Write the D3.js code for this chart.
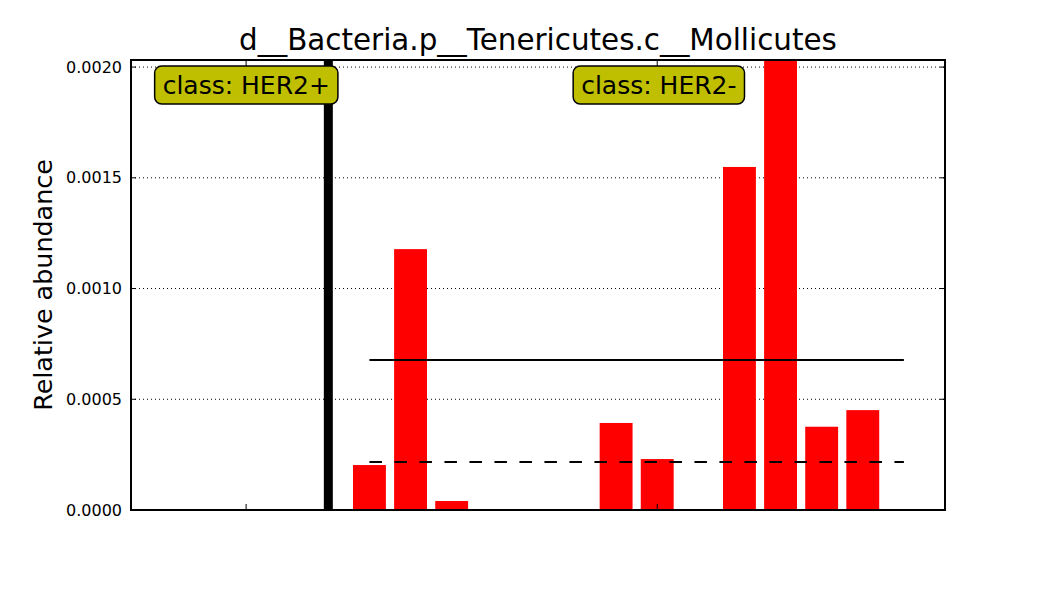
<!DOCTYPE html>
<html><head><meta charset="utf-8">
<script src="https://cdn.jsdelivr.net/npm/d3@7"></script>
<style>body{margin:0;background:#fff}svg{display:block}text{font-family:"DejaVu Sans",sans-serif}</style>
</head><body><svg id="c" width="1050" height="600"></svg>
<script>
const title = "d__Bacteria.p__Tenericutes.c__Mollicutes";
const classes = ["HER2+", "HER2-"];
const her2posValues = [0, 0, 0, 0];
const her2negValues = [0.000203, 0.001178, 0.0000406, 0, 0, 0, 0.000393, 0.00023, 0, 0.001549, 0.00506, 0.000376, 0.000451, 0];
const yTicks = [0.0000, 0.0005, 0.0010, 0.0015, 0.0020];
const yMax = 0.002032;

const svg = d3.select("#c");
const L = 131, R = 945, T = 60, B = 510;
const nPos = her2posValues.length, nNeg = her2negValues.length;
const negStart = nPos + 1;
const x = d3.scaleLinear().domain([-0.4, negStart + nNeg + 0.4]).range([L, R]);
const y = d3.scaleLinear().domain([0, yMax]).range([B, T]);

const defs = svg.append("defs");
defs.append("clipPath").attr("id", "clip").append("rect").attr("x", L).attr("y", T).attr("width", R - L).attr("height", B - T);

// grid
svg.append("g").selectAll("line").data(yTicks).join("line")
  .attr("x1", L).attr("x2", R).attr("y1", d => y(d)).attr("y2", d => y(d))
  .attr("stroke", "#000").attr("stroke-width", 1).attr("stroke-dasharray", "1,3");

const samples = her2posValues.map((v, i) => ({i, v}))
  .concat(her2negValues.map((v, i) => ({i: negStart + i, v})));
const g = svg.append("g").attr("clip-path", "url(#clip)");
g.selectAll("rect.bar").data(samples).join("rect").attr("class", "bar")
  .attr("x", d => x(d.i)).attr("width", d => x(d.i + 0.8) - x(d.i))
  .attr("y", d => y(d.v)).attr("height", d => B - y(d.v))
  .attr("fill", "#ff0000");

// class separator
g.append("line").attr("x1", x(nPos + 0.4)).attr("x2", x(nPos + 0.4)).attr("y1", T).attr("y2", B)
  .attr("stroke", "#000").attr("stroke-width", 9);

// mean/median lines
const groups = [
  {vals: her2posValues, s: 0},
  {vals: her2negValues, s: negStart}
];
groups.forEach(gr => {
  const x1 = x(gr.s + 0.4), x2 = x(gr.s + gr.vals.length - 1 + 0.4);
  const mean = d3.mean(gr.vals), med = d3.median(gr.vals);
  g.append("line").attr("x1", x1).attr("x2", x2).attr("y1", y(mean)).attr("y2", y(mean))
    .attr("stroke", "#000").attr("stroke-width", 2);
  g.append("line").attr("x1", x1).attr("x2", x2).attr("y1", y(med)).attr("y2", y(med))
    .attr("stroke", "#000").attr("stroke-width", 2).attr("stroke-dasharray", "12.5,12.5");
});

// axes frame
svg.append("rect").attr("x", L).attr("y", T).attr("width", R - L).attr("height", B - T)
  .attr("fill", "none").attr("stroke", "#000").attr("stroke-width", 2);

// y ticks (inward, both sides)
const tk = svg.append("g");
yTicks.forEach(t => {
  tk.append("line").attr("x1", L).attr("x2", L + 5).attr("y1", y(t)).attr("y2", y(t)).attr("stroke", "#000");
  tk.append("line").attr("x1", R).attr("x2", R - 5).attr("y1", y(t)).attr("y2", y(t)).attr("stroke", "#000");
  tk.append("text").attr("x", L - 9).attr("y", y(t)).attr("dy", "0.35em").attr("text-anchor", "end")
    .attr("font-size", 16).text(d3.format(".4f")(t));
});
// x ticks (no labels)
const xTicks = [2.4, 12.4];
xTicks.forEach(t => {
  tk.append("line").attr("x1", x(t)).attr("x2", x(t)).attr("y1", B).attr("y2", B - 6).attr("stroke", "#000");
  tk.append("line").attr("x1", x(t)).attr("x2", x(t)).attr("y1", T).attr("y2", T + 6).attr("stroke", "#000");
});

// class labels
const labelPos = [0.37, 10.55];
classes.forEach((c, k) => {
  const lg = svg.append("g");
  const t = lg.append("text").attr("x", x(labelPos[k])).attr("y", 94).attr("font-size", 25).text("class: " + c);
  const bb = t.node().getBBox();
  lg.insert("rect", "text").attr("x", bb.x - 8).attr("y", 66).attr("width", bb.width + 16).attr("height", 38)
    .attr("rx", 7).attr("ry", 7).attr("fill", "#bfbf00").attr("stroke", "#000").attr("stroke-width", 1.5);
});

// title
svg.append("text").attr("x", (L + R) / 2).attr("y", 50).attr("text-anchor", "middle")
  .attr("font-size", 29.4).text(title);
// y label
svg.append("text").attr("transform", `translate(52,${(T + B) / 2}) rotate(-90)`).attr("text-anchor", "middle")
  .attr("font-size", 25.4).text("Relative abundance");
</script></body></html>
